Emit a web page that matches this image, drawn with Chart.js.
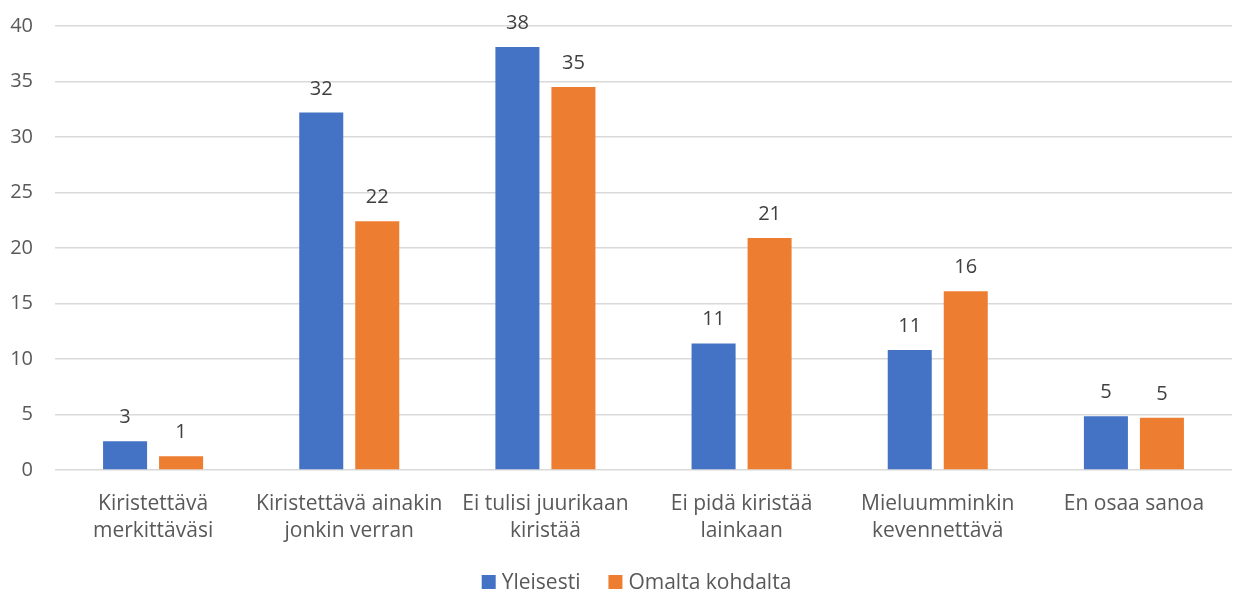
<!DOCTYPE html>
<html><head><meta charset="utf-8">
<script src="https://cdn.jsdelivr.net/npm/chart.js@4"></script>
<style>html,body{margin:0;padding:0;background:#fff}#wrap{width:1242px;height:593px}</style>
</head><body><div id="wrap"><canvas id="c" width="1242" height="593"></canvas></div>
<script>
const categories = [["Kiristettävä","merkittäväsi"],["Kiristettävä ainakin","jonkin verran"],["Ei tulisi juurikaan","kiristää"],["Ei pidä kiristää","lainkaan"],["Mieluumminkin","kevennettävä"],"En osaa sanoa"];
const yleisesti = [2.6, 32.2, 38.1, 11.4, 10.8, 4.85];
const omalta = [1.25, 22.4, 34.5, 20.9, 16.1, 4.7];
const seriesNames = ["Yleisesti","Omalta kohdalta"];
const colors = ['#4472C4', '#ED7D31'];

const FONT = "'Open Sans', 'Noto Sans', sans-serif";
const FS = 20;
const labelPlugin = {
  id: 'vlabels',
  afterDatasetsDraw(chart){
    const ctx = chart.ctx;
    ctx.save();
    ctx.font = FS + "px " + FONT;
    ctx.fillStyle = "#404040";
    ctx.textAlign = "center";
    ctx.textBaseline = "alphabetic";
    chart.data.datasets.forEach((ds,i)=>{
      chart.getDatasetMeta(i).data.forEach((bar,j)=>{
        ctx.fillText(String(Math.round(ds.data[j])), bar.x, bar.y - 18);
      });
    });
    ctx.restore();
  },
  afterDraw(chart){
    // legend below the axis labels
    const ctx = chart.ctx;
    ctx.save();
    ctx.font = "21px " + FONT;
    ctx.textBaseline = "middle";
    ctx.textAlign = "left";
    const box = 14, gapText = 6, gapItem = 28;
    const items = chart.data.datasets.map(ds => ({text: ds.label, color: ds.backgroundColor, w: ctx.measureText(ds.label).width}));
    const total = items.reduce((a,it)=>a + box + gapText + it.w, 0) + gapItem*(items.length-1);
    const cy = chart.height - 11;
    let x = (chart.chartArea.left + chart.chartArea.right)/2 - total/2 - 7;
    items.forEach(it => {
      ctx.fillStyle = it.color;
      ctx.fillRect(x, cy - box/2, box, box);
      x += box + gapText;
      ctx.fillStyle = '#595959';
      ctx.fillText(it.text, x, cy + 1);
      x += it.w + gapItem;
    });
    ctx.restore();
  }
};

new Chart(document.getElementById('c'), {
  type: 'bar',
  data: {
    labels: categories,
    datasets: [
      {label: seriesNames[0], data: yleisesti, backgroundColor: colors[0]},
      {label: seriesNames[1], data: omalta, backgroundColor: colors[1]}
    ]
  },
  options: {
    responsive: false,
    animation: false,
    devicePixelRatio: 1,
    categoryPercentage: 0.571,
    barPercentage: 0.786,
    layout: {padding: {top: 26, right: 10, left: 0, bottom: 49}},
    plugins: {
      legend: {display: false},
      tooltip: {enabled: false}
    },
    scales: {
      x: {
        grid: {display: false, drawTicks: false},
        border: {display: false},
        ticks: {color: '#595959', font: {family: FONT, size: 21, lineHeight: 1.3}, padding: 20, maxRotation: 0, autoSkip: false},
        afterFit(s){ s.height = 74; }
      },
      y: {
        min: 0, max: 40,
        grid: {color: '#d9d9d9', lineWidth: 1.5, drawTicks: false},
        border: {display: false},
        ticks: {stepSize: 5, color: '#595959', font: {family: FONT, size: FS}, padding: 22},
        afterFit(s){ s.width = 55; s.paddingTop = 0; s.paddingBottom = 0; }
      }
    }
  },
  plugins: [labelPlugin]
});
</script></body></html>
